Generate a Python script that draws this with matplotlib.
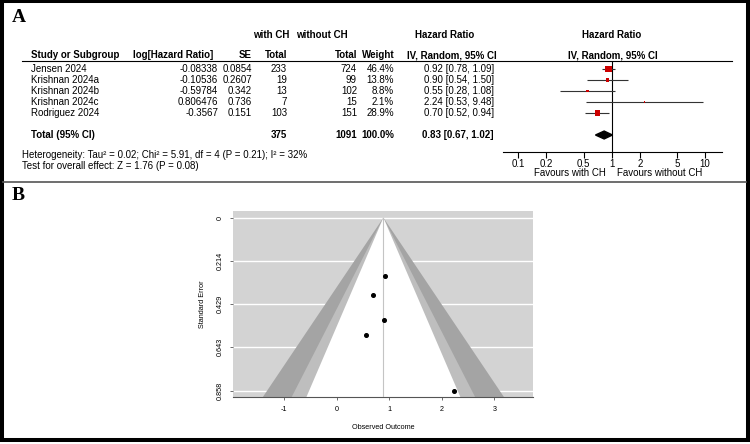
import matplotlib
matplotlib.use('Agg')
import matplotlib.pyplot as plt
import matplotlib.transforms as mtransforms
from matplotlib.lines import Line2D
from matplotlib.patches import Rectangle, Polygon
from matplotlib.ticker import NullLocator

# ---- data: panel A (forest plot) ----
studies = ['Jensen 2024', 'Krishnan 2024a', 'Krishnan 2024b', 'Krishnan 2024c', 'Rodriguez 2024']
log_hr_txt = ['-0.08338', '-0.10536', '-0.59784', '0.806476', '-0.3567']
se_txt = ['0.0854', '0.2607', '0.342', '0.736', '0.151']
n_with = [233, 19, 13, 7, 103]
n_without = [724, 99, 102, 15, 151]
weight = [46.4, 13.8, 8.8, 2.1, 28.9]
hr = [0.92, 0.90, 0.55, 2.24, 0.70]
hr_lo = [0.78, 0.54, 0.28, 0.53, 0.52]
hr_hi = [1.09, 1.50, 1.08, 9.48, 0.94]
total_with, total_without = 375, 1091
total_hr, total_lo, total_hi = 0.83, 0.67, 1.02
forest_ticks = [0.1, 0.2, 0.5, 1, 2, 5, 10]
forest_ticklabels = ['0.1', '0.2', '0.5', '1', '2', '5', '10']
het_txt = 'Heterogeneity: Tau\u00b2 = 0.02; Chi\u00b2 = 5.91, df = 4 (P = 0.21); I\u00b2 = 32%'
test_txt = 'Test for overall effect: Z = 1.76 (P = 0.08)'

# ---- data: panel B (funnel plot) ----
funnel_x = [0.92, 0.90, 0.55, 2.24, 0.70]
funnel_se = [0.29, 0.506, 0.583, 0.858, 0.385]
funnel_center = 0.89
se_ticks = [0, 0.214, 0.429, 0.643, 0.858]
se_ticklabels = ['0', '0.214', '0.429', '0.643', '0.858']
x_ticks = [-1, 0, 1, 2, 3]
contour_z = [2.576, 1.96, 1.645]
contour_col = ['#a4a4a4', '#bebebe', 'white']

W, H = 750, 444
plt.rcParams['font.family'] = ['Liberation Sans', 'DejaVu Sans']
fig = plt.figure(figsize=(7.5, 4.44), dpi=100)

def fx(px):
    return px / W

def fy(py):
    return 1 - py / H

# ---------- panel A ----------
row0, row_h = 69, 11
top_px, axis_px = 61, 152
ax_f = fig.add_axes([fx(502.7), fy(axis_px), fx(721.7 - 502.7), (axis_px - top_px) / H])
ax_f.set_xscale('log')
ax_f.set_xlim(0.0679, 15.1)
ax_f.set_ylim((axis_px - row0) / row_h, (top_px - row0) / row_h)
ax_f.patch.set_visible(False)
for s in ['top', 'left', 'right']:
    ax_f.spines[s].set_visible(False)
ax_f.spines['bottom'].set_linewidth(0.8)
ax_f.set_yticks([])
ax_f.set_xticks(forest_ticks)
ax_f.set_xticklabels(forest_ticklabels)
ax_f.xaxis.set_minor_locator(NullLocator())
ax_f.tick_params(axis='x', direction='out', length=4, width=0.8, pad=1.2, labelsize=7)
ax_f.axvline(1, color='black', lw=0.8)

rows = list(range(len(studies)))
total_row = 6
ax_f.hlines(rows, hr_lo, hr_hi, color='#333333', lw=0.8)
ax_f.scatter(hr, rows, marker='s', s=[0.52 * w for w in weight], color='#cc0000', zorder=3, linewidths=0)
dh = 0.36
ax_f.add_patch(Polygon([(total_lo, total_row), (total_hr, total_row - dh),
                        (total_hi, total_row), (total_hr, total_row + dh)],
                       closed=True, color='black', zorder=3))
ax_f.annotate('Favours with CH', xy=(1, 0), xycoords=('data', 'axes fraction'),
              xytext=(-4, -15), textcoords='offset points', ha='right', va='center', fontsize=7)
ax_f.annotate('Favours without CH', xy=(1, 0), xycoords=('data', 'axes fraction'),
              xytext=(4, -15), textcoords='offset points', ha='left', va='center', fontsize=7)

trans = mtransforms.blended_transform_factory(fig.transFigure, ax_f.transData)

def rr(py):
    return (py - row0) / row_h

def cell(x, r, s, ha='right', bold=False):
    fig.text(fx(x), r, s, transform=trans, ha=ha, va='center', fontsize=7,
             fontweight='bold' if bold else 'normal')

h1, h2 = rr(35), rr(55)
cell(271, h1, 'with CH', ha='center', bold=True)
cell(322, h1, 'without CH', ha='center', bold=True)
cell(445, h1, 'Hazard Ratio', ha='center', bold=True)
cell(612, h1, 'Hazard Ratio', ha='center', bold=True)
cell(31, h2, 'Study or Subgroup', ha='left', bold=True)
cell(213, h2, 'log[Hazard Ratio]', bold=True)
cell(252, h2, 'SE', bold=True)
cell(287, h2, 'Total', bold=True)
cell(357, h2, 'Total', bold=True)
cell(395, h2, 'Weight', bold=True)
cell(452, h2, 'IV, Random, 95% CI', ha='center', bold=True)
cell(613, h2, 'IV, Random, 95% CI', ha='center', bold=True)

for i in rows:
    cell(31, i, studies[i], ha='left')
    cell(218, i, log_hr_txt[i])
    cell(252, i, se_txt[i])
    cell(287, i, str(n_with[i]))
    cell(357, i, str(n_without[i]))
    cell(394, i, '%.1f%%' % weight[i])
    cell(494, i, '%.2f [%.2f, %.2f]' % (hr[i], hr_lo[i], hr_hi[i]))

cell(31, total_row, 'Total (95% CI)', ha='left', bold=True)
cell(287, total_row, str(total_with), bold=True)
cell(357, total_row, str(total_without), bold=True)
cell(394, total_row, '%.1f%%' % sum(weight), bold=True)
cell(494, total_row, '%.2f [%.2f, %.2f]' % (total_hr, total_lo, total_hi), bold=True)
cell(22, rr(155), het_txt, ha='left')
cell(22, rr(166), test_txt, ha='left')

fig.add_artist(Line2D([fx(22), fx(732)], [rr(top_px)] * 2, transform=trans,
                      color='black', lw=0.8))

# ---------- panel B ----------
b_left, b_right, b_top, b_bot = 232.7, 533.3, 210.7, 397.3
ax_b = fig.add_axes([fx(b_left), fy(b_bot), fx(b_right - b_left), (b_bot - b_top) / H])
ax_b.set_facecolor('#d3d3d3')
xmin, xmax = -1.975, 3.74
ybot = 0.891
ax_b.set_xlim(xmin, xmax)
ax_b.set_ylim(ybot, -0.0347)
ax_b.hlines(se_ticks, xmin, xmax, color='white', lw=1, zorder=1)
for z, col in zip(contour_z, contour_col):
    ax_b.add_patch(Polygon([(funnel_center, 0), (funnel_center - z * ybot, ybot),
                            (funnel_center + z * ybot, ybot)], closed=True,
                           facecolor=col, edgecolor='none', zorder=2))
ax_b.plot([funnel_center, funnel_center], [0, ybot], color='#c4c4c4', lw=0.8, zorder=3)
ax_b.plot(funnel_x, funnel_se, 'o', color='black', ms=2.6, zorder=4)
for s in ['top', 'left', 'right']:
    ax_b.spines[s].set_visible(False)
ax_b.spines['bottom'].set_color('#555555')
ax_b.spines['bottom'].set_linewidth(0.8)
ax_b.set_xticks(x_ticks)
ax_b.set_xticklabels([str(v) for v in x_ticks])
ax_b.set_yticks(se_ticks)
ax_b.set_yticklabels(se_ticklabels, rotation=90, va='center')
ax_b.tick_params(axis='both', length=2.2, width=0.6, color='#555555', labelsize=5.2)
ax_b.tick_params(axis='y', pad=4.5)
ax_b.tick_params(axis='x', pad=4)
ax_b.set_xlabel('Observed Outcome', fontsize=5.2)
ax_b.xaxis.set_label_coords(0.5, -(427 - b_bot) / (b_bot - b_top))
ax_b.xaxis.label.set_va('center')
ax_b.set_ylabel('Standard Error', fontsize=5.2)
ax_b.yaxis.set_label_coords((203 - b_left) / (b_right - b_left), 0.5)
ax_b.yaxis.label.set_va('center')

# ---------- frame, labels ----------
fig.text(fx(12), fy(17), 'A', fontfamily='Liberation Serif', fontweight='bold', fontsize=14, va='center')
fig.text(fx(12), fy(195), 'B', fontfamily='Liberation Serif', fontweight='bold', fontsize=14, va='center')
fig.add_artist(Line2D([fx(3), fx(746)], [fy(182), fy(182)], color='#555555', lw=1.2))
fig.add_artist(Rectangle((fx(2), fy(440)), fx(745.5), (440 - 1.5) / H, transform=fig.transFigure,
                         fill=False, edgecolor='black', lw=2.9))

fig.savefig('out.png', dpi=100)
